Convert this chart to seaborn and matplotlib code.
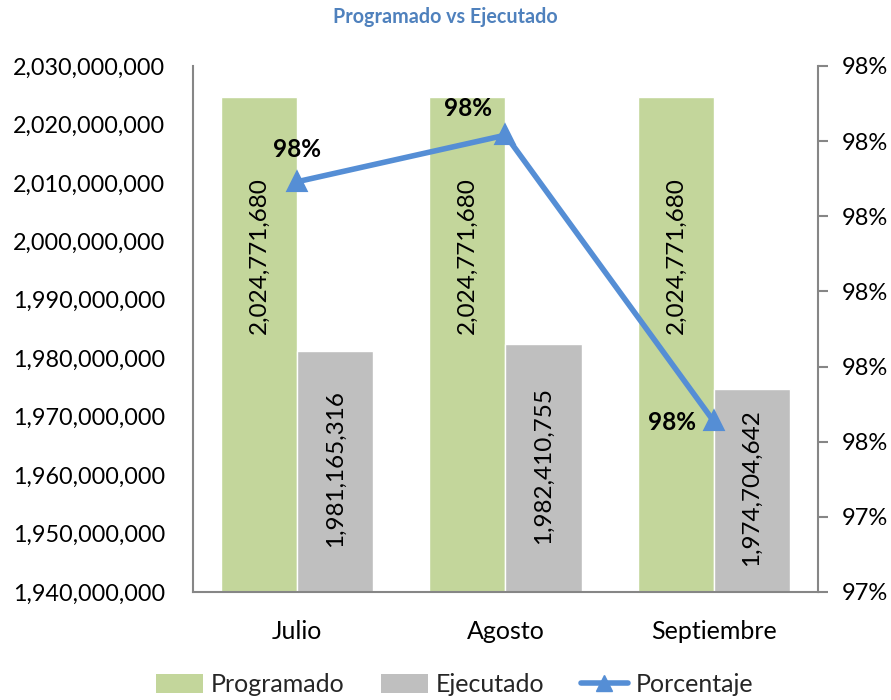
import matplotlib
matplotlib.use("Agg")
import matplotlib.pyplot as plt
import seaborn as sns
import pandas as pd
import numpy as np
from matplotlib.patches import Patch
from matplotlib.lines import Line2D

# ---- data ----
meses = ["Julio", "Agosto", "Septiembre"]
programado = [2024771680, 2024771680, 2024771680]
ejecutado = [1981165316, 1982410755, 1974704642]
porcentaje = [0.97846, 0.97908, 0.97527]
porcentaje_labels = ["98%", "98%", "98%"]
left_ticks = [1940000000, 1950000000, 1960000000, 1970000000, 1980000000,
              1990000000, 2000000000, 2010000000, 2020000000, 2030000000]
right_ticks = [0.973, 0.974, 0.975, 0.976, 0.977, 0.978, 0.979, 0.980]
right_tick_labels = ["97%", "97%", "98%", "98%", "98%", "98%", "98%", "98%"]

GREEN = "#C3D69B"
GRAY = "#BFBFBF"
BLUE = "#558ED5"
AXC = "#868686"

sns.set_theme(style="white")
plt.rcParams['font.family'] = ['Lato', 'DejaVu Sans']

df = pd.DataFrame({
    "Mes": meses * 2,
    "Serie": ["Programado"] * 3 + ["Ejecutado"] * 3,
    "Valor": programado + ejecutado,
})

fig = plt.figure(figsize=(8.91, 7.0), dpi=100)
ax = fig.add_axes([193 / 891, 108 / 700, (818 - 193) / 891, (592 - 66) / 700])

sns.barplot(data=df, x="Mes", y="Valor", hue="Serie", order=meses,
            hue_order=["Programado", "Ejecutado"],
            palette=[GREEN, GRAY], width=0.73, gap=0, saturation=1,
            ax=ax, legend=False, errorbar=None)

ymin, ymax = left_ticks[0], left_ticks[-1]
ax.set_ylim(ymin, ymax)
ax.set_yticks(left_ticks)
ax.set_yticklabels([f"{v:,.0f}" for v in left_ticks])
ax.set_xlabel("")
ax.set_ylabel("")
ax.tick_params(axis="y", length=0, labelsize=16.8, pad=20, colors="black")
ax.tick_params(axis="x", length=0, labelsize=18, pad=20, colors="black")
for s in ["top", "right"]:
    ax.spines[s].set_visible(False)
for s in ["left", "bottom"]:
    ax.spines[s].set_color(AXC)
    ax.spines[s].set_linewidth(1.5)

# bar labels
for i, (p, e) in enumerate(zip(programado, ejecutado)):
    gx = i - 0.73 / 4
    ex = i + 0.73 / 4
    ax.text(gx, 1997500000, f"{p:,.0f}", rotation=90, ha="center", va="center",
            fontsize=17.5, color="black")
    ax.text(ex, (e + ymin) / 2 + 500000, f"{e:,.0f}", rotation=90, ha="center",
            va="center", fontsize=17.5, color="black")

# secondary axis
ax2 = ax.twinx()
pdf = pd.DataFrame({"Mes": meses, "Porcentaje": porcentaje})
sns.pointplot(data=pdf, x="Mes", y="Porcentaje", order=meses, color=BLUE,
              markers="^", markersize=12, linewidth=4, ax=ax2, errorbar=None)
ax2.set_ylim(right_ticks[0], right_ticks[-1])
ax2.set_yticks(right_ticks)
ax2.set_yticklabels(right_tick_labels)
ax2.set_ylabel("")
ax2.set_xlabel("")
ax2.tick_params(axis="y", length=7, width=1.5, labelsize=17, pad=10,
                colors="black")
ax2.tick_params(axis="y", color=AXC)
for s in ["top", "left", "bottom"]:
    ax2.spines[s].set_visible(False)
ax2.spines["right"].set_color(AXC)
ax2.spines["right"].set_linewidth(1.5)
ax.set_xlim(-0.5, 2.5)
ax2.set_xlim(-0.5, 2.5)

offsets = [(0, 23), (-27, 19), (-30, -1)]
for i, (v, lab) in enumerate(zip(porcentaje, porcentaje_labels)):
    ax2.annotate(lab, (i, v), xytext=offsets[i], textcoords="offset points",
                 ha="center", va="center", fontsize=17.5, fontweight="bold",
                 color="black")

fig.text(0.5, 1 - 17 / 700, "Programado vs Ejecutado", ha="center", va="center",
         fontsize=14.2, fontweight="bold", color="#4F81BD")

handles = [Patch(facecolor=GREEN, edgecolor="none"),
           Patch(facecolor=GRAY, edgecolor="none"),
           Line2D([0], [0], color=BLUE, lw=4, marker="^", markersize=12)]
fig.legend(handles, ["Programado", "Ejecutado", "Porcentaje"],
           loc="center", bbox_to_anchor=(0.51, 1 - 685 / 700), ncol=3,
           frameon=False, fontsize=18, handlelength=1.9, handleheight=0.8,
           columnspacing=1.45, handletextpad=0.3)

fig.savefig("out.png", dpi=100)
